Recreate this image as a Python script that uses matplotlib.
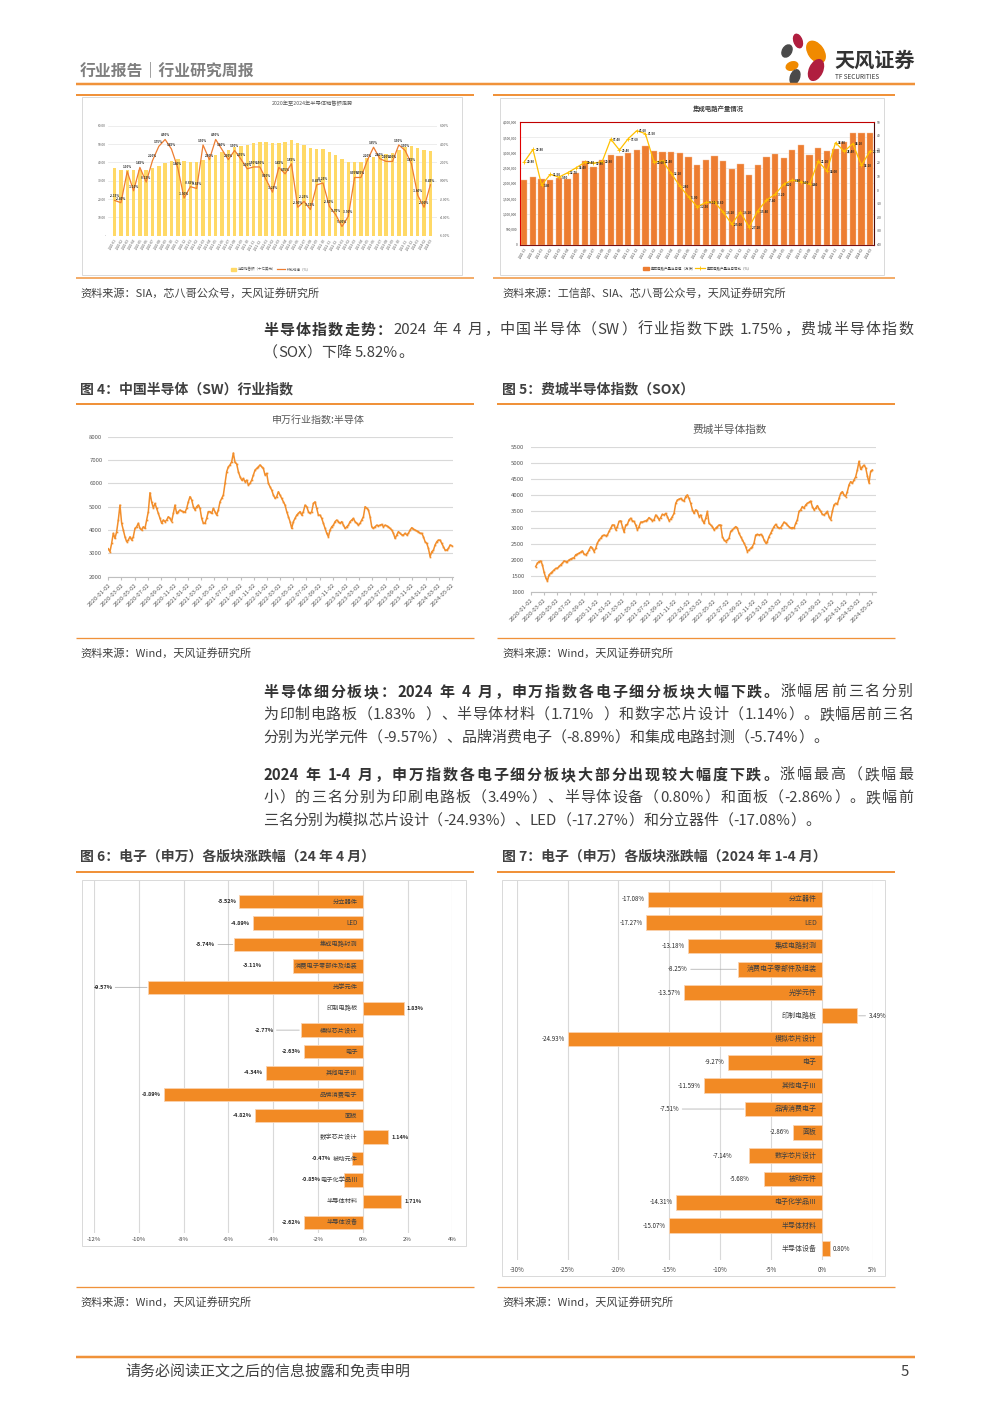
import re
import numpy as np
import pandas as pd
import matplotlib
matplotlib.use('Agg')
import matplotlib.pyplot as plt
from matplotlib.patches import Rectangle, Ellipse
from matplotlib.font_manager import FontProperties

plt.rcParams['font.family'] = ['Noto Sans CJK SC', 'DejaVu Sans']
plt.rcParams['axes.unicode_minus'] = False

# ------------------------------------------------------------------ data
# Chart 1: global semiconductor monthly sales (bn USD) and MoM growth (%)
sales_start = '2020-01'
sales_values = [36.7, 35.6, 35.6, 35.6, 35.6, 36.0, 36.9, 38.2, 39.6, 40.9,
                41.6, 40.7, 40.4, 40.0, 41.3, 42.5, 44.0, 45.5, 46.7, 48.2,
                49.1, 49.6, 50.4, 51.1, 51.1, 50.4, 50.7, 51.1, 52.2, 50.5,
                49.3, 47.8, 47.3, 47.3, 45.8, 44.0, 41.6, 40.0, 40.2, 40.4,
                42.4, 42.9, 44.0, 44.5, 45.3, 46.9, 48.5, 48.9, 48.0, 46.5, 46.2]
sales_mom = [-2.15, -2.40, 1.00, -1.10, 1.45, -0.15, 2.20, 3.75, 4.50, 3.45,
             1.40, -1.90, -0.65, -0.85, 3.90, 2.30, 4.50, 3.40, 2.30, 3.30,
             2.35, 1.30, 1.50, 1.50, 0.10, -1.25, 1.45, 0.75, 1.85, -2.90,
             -2.25, -3.15, -0.45, -0.25, -2.80, -3.70, -5.00, -3.90, 0.35, 0.35,
             2.20, 3.65, 2.40, 2.10, 2.10, 3.90, 3.30, 1.85, -1.60, -2.90, -0.45]

# Chart 2: China IC output (10k units) and YoY (%)
ic_start = '2020-11'
ic_output = [2120000, 2190000, 2150000, 2090000, 2170000, 2150000, 2320000, 2730000, 2530000, 2770000,
             2910000, 2880000, 2980000, 3090000, 3220000, 3050000, 3010000, 3010000, 2980000, 2850000,
             2600000, 2760000, 2890000, 2720000, 2480000, 2630000, 2270000, 2610000, 2850000, 2940000,
             2820000, 3080000, 3240000, 2920000, 3140000, 3060000, 3130000, 3350000, 3640000, 3640000, 3640000]
ic_yoy = [20.8, 29.8, 3.6, 11.5, 9.5, 12.7, 16.4, 20.4, 19.8, 20.8,
          37.4, 29.4, 37.6, 43.6, 41.5, 20.6, 21.4, 12.2, 2.8, -5.0,
          -12.3, -9.1, -8.8, -16.2, -25.0, -16.2, -27.2, -15.4, -7.4, -3.2,
          4.2, 7.4, 5.9, 4.4, 21.1, 14.0, 34.8, 28.4, 34.1, 18.1, 28.7]

# Chart 3: SW semiconductor index (weekly readings)
sw_start, sw_end = '2020-01-02', '2024-05-02'
sw_values = [3200, 3070, 3430, 3860, 3640, 3930, 4430, 5070, 4290, 4000,
             3710, 3500, 3570, 3710, 3570, 3710, 4070, 4140, 4290, 4070,
             4000, 4140, 4070, 4430, 4790, 5600, 5200, 4950, 5140, 4930,
             4710, 4500, 4290, 4430, 4360, 4430, 4570, 4500, 4360, 4710,
             5070, 4710, 4790, 4860, 4810, 4790, 4760, 4930, 5210, 5430,
             5290, 5000, 4860, 5000, 5070, 4930, 4500, 4290, 4290, 4500,
             4790, 4790, 4710, 4930, 4790, 4640, 4860, 5210, 5360, 5500,
             6000, 6500, 6710, 6790, 6930, 7300, 6900, 6830, 6500, 6290,
             6140, 6210, 6070, 6140, 5930, 6000, 6140, 6360, 6570, 6640,
             6710, 6790, 6710, 6640, 6360, 6430, 6000, 5860, 5710, 5500,
             5360, 5430, 5640, 5500, 5360, 5210, 5070, 4790, 4570, 4360,
             4070, 4360, 4500, 4640, 4710, 4790, 4640, 4790, 5070, 5000,
             4790, 4710, 4790, 5140, 5210, 4930, 4640, 4640, 4500, 4290,
             4070, 3860, 3710, 4000, 4140, 4210, 4360, 4430, 4360, 4290,
             4360, 4210, 4070, 4140, 4210, 4360, 4430, 4500, 4360, 4290,
             4210, 4290, 4430, 4570, 5000, 4930, 4860, 4570, 4140, 4070,
             4140, 4210, 4180, 4210, 4240, 4140, 4210, 4180, 4140, 4070,
             4000, 3860, 3640, 3790, 3930, 3860, 3790, 3790, 3860, 3790,
             3860, 4000, 4100, 4040, 4000, 3960, 3930, 3860, 3860, 3710,
             3500, 3430, 3210, 2860, 3070, 3140, 3360, 3500, 3570, 3570,
             3430, 3290, 3140, 3140, 3210, 3360, 3330]

# Chart 4: Philadelphia semiconductor index (weekly readings)
sox_start, sox_end = '2020-01-24', '2024-05-05'
sox_values = [1796, 1900, 1950, 1970, 1850, 1620, 1450, 1350, 1540, 1590,
              1640, 1690, 1740, 1740, 1800, 1850, 1900, 1970, 1950, 1950,
              2000, 2030, 2050, 2070, 2160, 2180, 2210, 2240, 2280, 2180,
              2160, 2210, 2310, 2410, 2360, 2260, 2360, 2520, 2620, 2670,
              2750, 2770, 2750, 2770, 2880, 2980, 3080, 3080, 2930, 3030,
              3190, 3210, 3030, 2860, 3080, 3100, 3240, 3290, 3210, 3190,
              3080, 2930, 3030, 3170, 3170, 3190, 3210, 3240, 3310, 3260,
              3210, 3240, 3390, 3340, 3240, 3310, 3410, 3390, 3440, 3340,
              3210, 3260, 3340, 3440, 3750, 3850, 3880, 3900, 3850, 3820,
              3960, 4010, 3900, 3750, 3550, 3440, 3550, 3500, 3340, 3390,
              3240, 3130, 3290, 3500, 3130, 3080, 3030, 2930, 2980, 3030,
              3080, 3080, 2720, 2620, 2570, 2620, 2670, 2880, 2930, 2980,
              3030, 2980, 2820, 2720, 2620, 2520, 2410, 2260, 2310, 2360,
              2410, 2520, 2770, 2790, 2770, 2790, 2750, 2620, 2520, 2570,
              2720, 2820, 2930, 3030, 3100, 3030, 2980, 3000, 3080, 3170,
              3130, 3080, 3030, 2980, 3000, 2980, 3130, 3240, 3500, 3550,
              3650, 3600, 3700, 3750, 3780, 3820, 3650, 3550, 3600, 3680,
              3580, 3500, 3410, 3390, 3440, 3500, 3340, 3240, 3500, 3700,
              3750, 3720, 3900, 4060, 4110, 4010, 3960, 4110, 4320, 4420,
              4370, 4470, 4570, 4780, 5050, 4800, 4880, 4930, 4850, 4600,
              4380, 4740, 4780]

index_tick_labels = ['2020-01-02', '2020-03-02', '2020-05-02', '2020-07-02', '2020-09-02',
                     '2020-11-02', '2021-01-02', '2021-03-02', '2021-05-02', '2021-07-02',
                     '2021-09-02', '2021-11-02', '2022-01-02', '2022-03-02', '2022-05-02',
                     '2022-07-02', '2022-09-02', '2022-11-02', '2023-01-02', '2023-03-02',
                     '2023-05-02', '2023-07-02', '2023-09-02', '2023-11-02', '2024-01-02',
                     '2024-03-02', '2024-05-02']

# Charts 5 & 6: Shenwan electronics sub-sectors
sector_names = ['分立器件', 'LED', '集成电路封测', '消费电子零部件及组装', '光学元件', '印制电路板',
                '模拟芯片设计', '电子', '其他电子Ⅲ', '品牌消费电子', '面板', '数字芯片设计',
                '被动元件', '电子化学品Ⅲ', '半导体材料', '半导体设备']
sector_apr = [-5.52, -4.89, -5.74, -3.11, -9.57, 1.83, -2.77, -2.63, -4.34, -8.89,
              -4.82, 1.14, -0.47, -0.85, 1.71, -2.62]
sector_ytd = [-17.08, -17.27, -13.18, -8.25, -13.57, 3.49, -24.93, -9.27, -11.59, -7.51,
              -2.86, -7.14, -5.68, -14.31, -15.07, 0.80]

# ------------------------------------------------------------------ figure
W, H = 993, 1404
fig = plt.figure(figsize=(W / 100, H / 100), dpi=100)
fig.patch.set_facecolor('white')
bg = fig.add_axes([0, 0, 1, 1], zorder=-5)
bg.set_xlim(0, W)
bg.set_ylim(H, 0)
bg.axis('off')

ORANGE_RULE = '#F0923A'
TXT = '#404040'
FAM = ['Noto Sans CJK SC', 'DejaVu Sans']


def add_ax(x0, y0, x1, y1):
    a = fig.add_axes([x0 / W, 1 - y1 / H, (x1 - x0) / W, (y1 - y0) / H])
    a.set_facecolor('none')
    return a


def rule(x0, x1, y, color=ORANGE_RULE, lw_px=2.0):
    bg.plot([x0, x1], [y, y], color=color, lw=lw_px * 0.72, solid_capstyle='butt')


def T(x, y, s, size, color=TXT, weight='normal', ha='left', va='center'):
    return bg.text(x, y, s, fontsize=size, color=color, fontweight=weight, ha=ha, va=va, family=FAM)


def frame(x0, y0, x1, y1, color='#D9D9D9'):
    bg.add_patch(Rectangle((x0, y0), x1 - x0, y1 - y0, fill=False, edgecolor=color, lw=0.7))


# ------------------------------------------------------------------ header
T(80, 70, '行业报告｜行业研究周报', 11.4, color='#7F7F7F', weight='bold')
rule(76, 915, 84, lw_px=2.5)
for (cx, cy, w, h, ang, col) in [(798, 41, 8, 14, -20, '#B01E3F'), (787, 51, 9, 13, 30, '#4A4A4A'),
                                  (816, 52, 15, 24, -35, '#F08A00'), (792, 66, 12, 8, -20, '#F08A00'),
                                  (816, 70, 13, 22, 25, '#B01E3F'), (795, 77, 9, 15, 20, '#4A4A4A')]:
    bg.add_patch(Ellipse((cx, cy), w, h, angle=ang, color=col))
T(834, 60, '天风证券', 14.5, color='#333333', weight='bold')
T(835, 77, 'TF SECURITIES', 4.6, color='#333333')

# ------------------------------------------------------------------ top-left chart
rule(76, 474, 95)
rule(76, 474, 278, lw_px=1.5)
frame(82, 97, 462, 275)
T(272, 104, '2020年至2024年半导体销售额走势', 3.8, color='#595959')
ax1 = add_ax(108.3, 125.7, 436.7, 235.7)
xs = np.arange(len(sales_values))
sales_labels = [p.strftime('%Y-%m') for p in pd.period_range(sales_start, periods=len(sales_values), freq='M')]
ax1.bar(xs, sales_values, width=0.55, color='#FFD966', zorder=2)
ax1.set_xlim(-1, len(xs))
ax1.set_ylim(0, 60)
ax1.set_yticks(np.arange(0, 61, 10))
ax1.set_yticklabels(['-' if v == 0 else f'{v:.2f}' for v in np.arange(0, 61, 10)])
ax1.set_xticks(xs)
ax1.set_xticklabels(sales_labels, rotation=60, ha='right', rotation_mode='anchor')
ax1.grid(axis='y', color='#E6E6E6', lw=0.5)
ax1.set_axisbelow(True)
for s in ax1.spines.values():
    s.set_visible(False)
ax1.tick_params(length=0, labelsize=2.4, colors='#595959', pad=2)
ax1r = ax1.twinx()
ax1r.set_facecolor('none')
ax1r.plot(xs, sales_mom, color='#ED7D31', lw=0.9, zorder=4)
ax1r.set_ylim(-6, 6)
ax1r.set_yticks(np.arange(-6, 7, 2))
ax1r.set_yticklabels([f'{v:.2f}%' for v in np.arange(-6, 7, 2)])
for s in ax1r.spines.values():
    s.set_visible(False)
ax1r.tick_params(length=0, labelsize=2.4, colors='#595959', pad=2)
for xi, v in zip(xs, sales_mom):
    ax1r.annotate(f'{v:.2f}%', (xi, v), xytext=(0, 1.5), textcoords='offset points', ha='center',
                  va='bottom', fontsize=2.1, fontweight='bold', color='#262626', zorder=5)
bg.add_patch(Rectangle((231, 267.6), 5, 3.2, color='#FFD966'))
T(238, 269.3, '当月销售额（十亿美元）', 2.5, color='#595959')
bg.plot([277, 285], [269.3, 269.3], color='#ED7D31', lw=0.9)
T(287, 269.3, '环比增速（%）', 2.5, color='#595959')

# ------------------------------------------------------------------ top-right chart
rule(493, 895, 95)
rule(493, 895, 278, lw_px=1.5)
frame(500, 98, 884, 275)
T(693, 109, '集成电路产量情况', 4.6, color='#404040', weight='bold')
ax2 = add_ax(520, 122, 874, 244.5)
xi2 = np.arange(len(ic_output))
ic_labels = [p.strftime('%Y-%m') for p in pd.period_range(ic_start, periods=len(ic_output), freq='M')]
ax2.bar(xi2, ic_output, width=0.73, color='#ED7D31', edgecolor='#F6BE96', lw=0.3, zorder=2)
ax2.set_xlim(-0.5, len(xi2) - 0.55)
ax2.set_ylim(0, 4000000)
ax2.set_yticks(np.arange(0, 4000001, 500000))
ax2.set_yticklabels([f'{int(v):,}' for v in np.arange(0, 4000001, 500000)])
ax2.set_xticks(xi2)
ax2.set_xticklabels(ic_labels, rotation=60, ha='right', rotation_mode='anchor')
ax2.grid(axis='y', color='#E6E6E6', lw=0.5)
ax2.set_axisbelow(True)
ax2.spines['left'].set_color('#E00000')
ax2.spines['top'].set_color('#C00000')
ax2.spines['right'].set_color('#4A0A0A')
ax2.spines['bottom'].set_color('#7A1010')
for s in ax2.spines.values():
    s.set_linewidth(0.8)
ax2.tick_params(length=0, labelsize=2.4, colors='#404040', pad=2)
ax2r = ax2.twinx()
ax2r.set_facecolor('none')
ax2r.plot(xi2, ic_yoy, color='#FFC000', lw=0.9, marker='+', ms=2.2, mew=0.6, zorder=4)
ax2r.set_ylim(-40, 50)
ax2r.set_yticks(np.arange(-40, 51, 10))
for s in ax2r.spines.values():
    s.set_visible(False)
ax2r.tick_params(length=0, labelsize=2.4, colors='#404040', pad=2)
for xv, v in zip(xi2, ic_yoy):
    ax2r.annotate(f'{v:.2f}', (xv, v), xytext=(1.8, -0.5), textcoords='offset points', ha='left',
                  va='center', fontsize=2.1, fontweight='bold', color='#262626', zorder=5)
bg.add_patch(Rectangle((643, 266.6), 5.5, 3.4, color='#ED7D31'))
T(650.5, 268.3, '集成电路产量当月值（万块）', 2.5, color='#404040')
bg.plot([695, 705], [268.3, 268.3], color='#FFC000', lw=0.9)
bg.plot([700], [268.3], marker='+', color='#FFC000', ms=2.2, mew=0.6)
T(707, 268.3, '集成电路产量当月同比（%）', 2.5, color='#404040')

T(80, 293, '资料来源：SIA，芯八哥公众号，天风证券研究所', 8)
T(502, 293, '资料来源：工信部、SIA、芯八哥公众号，天风证券研究所', 8)

# ------------------------------------------------------------------ paragraphs
renderer = fig.canvas.get_renderer()
TOKEN = re.compile(r'[A-Za-z0-9.%\-]+| |.')
_wcache = {}


def _w(s, fp):
    key = (s, fp.get_weight(), fp.get_size())
    if key not in _wcache:
        _wcache[key] = renderer.get_text_width_height_descent(s, fp, ismath=False)[0]
    return _wcache[key]


def para_line(x0, y, segments, size=10.8, target=None):
    items = []
    for s, wt in segments:
        fp = FontProperties(family=FAM, size=size, weight=wt)
        for tok in TOKEN.findall(s):
            adv = _w('中' + tok + '中', fp) - _w('中中', fp)
            items.append((tok, wt, adv))
    total = sum(a for _, _, a in items)
    gap = 0.0
    if target is not None and len(items) > 1 and target > total:
        gap = (target - total) / (len(items) - 1)
    x = x0
    for tok, wt, adv in items:
        if tok != ' ':
            bg.text(x, y, tok, fontsize=size, fontweight=wt, family=FAM,
                    color='#333333' if wt == 'bold' else TXT, ha='left', va='center')
        x += adv + gap


PX0, PW = 263, 650
para_line(PX0, 330, [('半导体指数走势：', 'bold'),
                     ('2024 年 4 月，中国半导体（SW）行业指数下跌 1.75%，费城半导体指数', 'normal')], target=PW)
para_line(PX0, 353, [('（SOX）下降 5.82%。', 'normal')])
para_line(PX0, 692, [('半导体细分板块：2024 年 4 月，申万指数各电子细分板块大幅下跌。', 'bold'),
                     ('涨幅居前三名分别', 'normal')], target=PW)
para_line(PX0, 715, [('为印制电路板（1.83%  ）、半导体材料（1.71%  ）和数字芯片设计（1.14%）。跌幅居前三名', 'normal')],
          target=PW)
para_line(PX0, 738, [('分别为光学元件（-9.57%）、品牌消费电子（-8.89%）和集成电路封测（-5.74%）。', 'normal')])
para_line(PX0, 775, [('2024 年 1-4 月，申万指数各电子细分板块大部分出现较大幅度下跌。', 'bold'),
                     ('涨幅最高（跌幅最', 'normal')], target=PW)
para_line(PX0, 798, [('小）的三名分别为印刷电路板（3.49%）、半导体设备（0.80%）和面板（-2.86%）。跌幅前', 'normal')],
          target=PW)
para_line(PX0, 821, [('三名分别为模拟芯片设计（-24.93%）、LED（-17.27%）和分立器件（-17.08%）。', 'normal')])

# ------------------------------------------------------------------ index charts
T(80, 389, '图 4：中国半导体（SW）行业指数', 10, weight='bold')
T(502, 389, '图 5：费城半导体指数（SOX）', 10, weight='bold')
rule(76, 474, 404)
rule(497, 895, 404)
rule(76, 474, 638, lw_px=1.3)
rule(497, 895, 638, lw_px=1.3)
T(80, 653, '资料来源：Wind，天风证券研究所', 8)
T(502, 653, '资料来源：Wind，天风证券研究所', 8)

tick_dates = pd.to_datetime(index_tick_labels)


def index_chart(ax, dates, vals, ylo, yhi, ystep, xright, ypad):
    ax.plot(dates, vals, color='#F28E2B', lw=1.1, marker='s', ms=1.2, mew=0, zorder=3)
    ax.set_ylim(ylo, yhi)
    ax.set_yticks(np.arange(ylo, yhi + 1, ystep))
    ax.set_xlim(tick_dates[0], pd.Timestamp(xright))
    ax.set_xticks(tick_dates)
    ax.set_xticklabels(index_tick_labels, rotation=45, ha='right', rotation_mode='anchor')
    ax.grid(axis='y', color='#D9D9D9', lw=0.8)
    ax.set_axisbelow(True)
    for s in ['top', 'right', 'left']:
        ax.spines[s].set_visible(False)
    ax.spines['bottom'].set_color('#BFBFBF')
    ax.spines['bottom'].set_linewidth(0.8)
    ax.tick_params(axis='x', length=2.5, color='#BFBFBF', labelsize=4.3, labelcolor='#595959', pad=1.5)
    ax.tick_params(axis='y', length=0, labelsize=4.3, labelcolor='#595959', pad=ypad)


T(272, 420, '申万行业指数:半导体', 7.2, color='#595959')
ax3 = add_ax(108.3, 436.7, 453.3, 576.7)
sw_dates = pd.date_range(sw_start, sw_end, periods=len(sw_values))
index_chart(ax3, sw_dates, sw_values, 2000, 8000, 1000, '2024-05-09', 4.3)

T(693, 430, '费城半导体指数', 7.7, color='#595959')
ax4 = add_ax(531, 446.7, 876, 592.3)
sox_dates = pd.date_range(sox_start, sox_end, periods=len(sox_values))
index_chart(ax4, sox_dates, sox_values, 1000, 5500, 500, '2024-05-22', 4.8)

# ------------------------------------------------------------------ sector bar charts
T(80, 857, '图 6：电子（申万）各版块涨跌幅（24 年 4 月）', 10, weight='bold')
T(502, 857, '图 7：电子（申万）各版块涨跌幅（2024 年 1-4 月）', 10, weight='bold')
rule(76, 474, 872)
rule(497, 895, 872)
rule(76, 474, 1287, lw_px=1.3)
rule(497, 895, 1287, lw_px=1.3)
T(80, 1302, '资料来源：Wind，天风证券研究所', 8)
T(502, 1302, '资料来源：Wind，天风证券研究所', 8)
frame(82, 880, 466, 1246)
frame(502, 880, 885, 1276)


def sector_chart(ax, vals, xmin, xmax, step, ylim, val_weight, shifts, leaders, cat_fs, val_fs, tick_fs, tick_pad):
    y = np.arange(len(sector_names))
    ax.barh(y, vals, height=0.63, color='#F28A24', edgecolor='#FAD2AE', linewidth=0.6, zorder=3)
    ax.set_xlim(xmin, xmax)
    ax.set_ylim(*ylim)
    ticks = np.arange(xmin, xmax + 0.01, step)
    ax.set_xticks(ticks)
    ax.set_xticklabels([f'{int(round(t))}%' for t in ticks])
    ax.grid(axis='x', color='#D9D9D9', lw=0.8, zorder=0)
    ax.set_yticks([])
    for s in ax.spines.values():
        s.set_visible(False)
    ax.tick_params(axis='x', length=0, labelsize=tick_fs, labelcolor='#404040', pad=tick_pad)
    for i, (c, v) in enumerate(zip(sector_names, vals)):
        ax.annotate(c, xy=(0, i), xytext=(-3.8, 0), textcoords='offset points', ha='right', va='center',
                    fontsize=cat_fs, color='#404040', zorder=5)
        off = (3 + shifts.get(c, 0)) * 0.72
        sign = -1 if v < 0 else 1
        ap = dict(arrowstyle='-', color='#A6A6A6', lw=0.5, shrinkA=0, shrinkB=1) if c in leaders else None
        ax.annotate(f'{v:.2f}%', xy=(v, i), xytext=(sign * off, 0), textcoords='offset points',
                    ha='right' if v < 0 else 'left', va='center', fontsize=val_fs, fontweight=val_weight,
                    color='#262626', arrowprops=ap, zorder=6)


ax5 = add_ax(94, 880, 452.3, 1233)
sector_chart(ax5, sector_apr, -12, 4, 2, (15.48, -1.014), 'bold',
             {'集成电路封测': 16, '消费电子零部件及组装': 28, '光学元件': 33, '模拟芯片设计': 24,
              '被动元件': 18, '电子化学品Ⅲ': 20},
             {'集成电路封测', '光学元件', '模拟芯片设计'}, 4.5, 4.0, 4.3, 3.2)

ax6 = add_ax(516.7, 880, 872.7, 1260)
sector_chart(ax6, sector_ytd, -30, 5, 5, (15.48, -0.83), 'normal',
             {'消费电子零部件及组装': 47, '印制电路板': 8, '品牌消费电子': 63, '数字芯片设计': 14, '被动元件': 12},
             {'消费电子零部件及组装', '印制电路板', '品牌消费电子'}, 5.0, 4.4, 4.5, 4.0)

# ------------------------------------------------------------------ footer
rule(76, 915, 1357, lw_px=2.5)
T(125, 1372, '请务必阅读正文之后的信息披露和免责申明', 10.8)
T(905, 1372, '5', 10.8, ha='center')

fig.savefig('out.png', dpi=100, facecolor='white')
